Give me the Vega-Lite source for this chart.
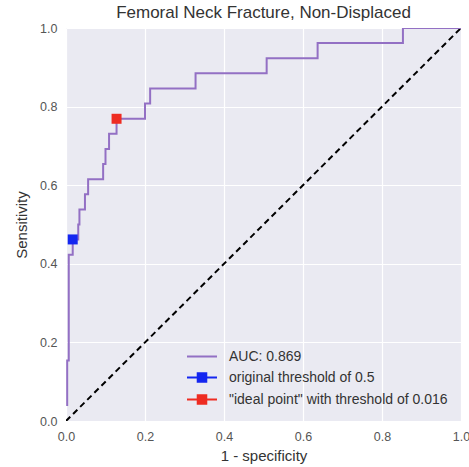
{
  "$schema": "https://vega.github.io/schema/vega-lite/v6.json",
  "width": 395,
  "height": 393,
  "autosize": {"type": "none"},
  "padding": {"left": 66, "top": 28, "right": 8, "bottom": 46},
  "background": "white",
  "title": {"text": "Femoral Neck Fracture, Non-Displaced", "fontSize": 17, "font": "Liberation Sans", "fontWeight": "normal", "color": "#333333", "offset": 0},
  "config": {
    "view": {"fill": "#EAEAF2", "stroke": null},
    "axis": {"grid": true, "gridColor": "white", "gridWidth": 1.2, "domain": false, "ticks": false, "labelFlush": false, "labelFont": "Liberation Sans", "labelFontSize": 12.5, "labelColor": "#555555", "titleFont": "Liberation Sans", "titleFontSize": 15, "titleFontWeight": "normal", "titleColor": "#333333", "labelPadding": 9},
    "legend": {"title": null, "orient": "bottom-right", "offset": 13, "padding": 0, "labelFont": "Liberation Sans", "labelFontSize": 14, "labelColor": "#333333", "labelLimit": 400, "rowPadding": 5, "symbolSize": 225, "symbolStrokeWidth": 2, "labelOffset": 26}
  },
  "datasets": {
    "roc": [
      {"i": 0, "fpr": 0.003, "tpr": 0.038},
      {"i": 1, "fpr": 0.003, "tpr": 0.154},
      {"i": 2, "fpr": 0.007, "tpr": 0.154},
      {"i": 3, "fpr": 0.007, "tpr": 0.423},
      {"i": 4, "fpr": 0.017, "tpr": 0.423},
      {"i": 5, "fpr": 0.017, "tpr": 0.462},
      {"i": 6, "fpr": 0.031, "tpr": 0.462},
      {"i": 7, "fpr": 0.031, "tpr": 0.5},
      {"i": 8, "fpr": 0.034, "tpr": 0.5},
      {"i": 9, "fpr": 0.034, "tpr": 0.538},
      {"i": 10, "fpr": 0.048, "tpr": 0.538},
      {"i": 11, "fpr": 0.048, "tpr": 0.577},
      {"i": 12, "fpr": 0.056, "tpr": 0.577},
      {"i": 13, "fpr": 0.056, "tpr": 0.615},
      {"i": 14, "fpr": 0.094, "tpr": 0.615},
      {"i": 15, "fpr": 0.094, "tpr": 0.654},
      {"i": 16, "fpr": 0.1, "tpr": 0.654},
      {"i": 17, "fpr": 0.1, "tpr": 0.692},
      {"i": 18, "fpr": 0.109, "tpr": 0.692},
      {"i": 19, "fpr": 0.109, "tpr": 0.731},
      {"i": 20, "fpr": 0.128, "tpr": 0.731},
      {"i": 21, "fpr": 0.128, "tpr": 0.769},
      {"i": 22, "fpr": 0.2, "tpr": 0.769},
      {"i": 23, "fpr": 0.2, "tpr": 0.808},
      {"i": 24, "fpr": 0.213, "tpr": 0.808},
      {"i": 25, "fpr": 0.213, "tpr": 0.846},
      {"i": 26, "fpr": 0.328, "tpr": 0.846},
      {"i": 27, "fpr": 0.328, "tpr": 0.885},
      {"i": 28, "fpr": 0.508, "tpr": 0.885},
      {"i": 29, "fpr": 0.508, "tpr": 0.923},
      {"i": 30, "fpr": 0.637, "tpr": 0.923},
      {"i": 31, "fpr": 0.637, "tpr": 0.962},
      {"i": 32, "fpr": 0.853, "tpr": 0.962},
      {"i": 33, "fpr": 0.853, "tpr": 1.0},
      {"i": 34, "fpr": 1.0, "tpr": 1.0}
    ],
    "diag": [
      {"i": 0, "fpr": 0, "tpr": 0},
      {"i": 1, "fpr": 1, "tpr": 1}
    ],
    "pts": [
      {"series": "original threshold of 0.5", "fpr": 0.017, "tpr": 0.462},
      {"series": "\"ideal point\" with threshold of 0.016", "fpr": 0.128, "tpr": 0.769}
    ]
  },
  "layer": [
    {
      "data": {"name": "diag"},
      "mark": {"type": "line", "color": "black", "strokeWidth": 2, "strokeDash": [6, 4], "clip": true},
      "encoding": {
        "x": {"field": "fpr", "type": "quantitative", "scale": {"domain": [0, 1], "nice": false}, "axis": {"title": "1 - specificity", "values": [0, 0.2, 0.4, 0.6, 0.8, 1.0], "format": ".1f", "titlePadding": 6}},
        "y": {"field": "tpr", "type": "quantitative", "scale": {"domain": [0, 1], "nice": false}, "axis": {"title": "Sensitivity", "values": [0, 0.2, 0.4, 0.6, 0.8, 1.0], "format": ".1f", "titlePadding": 10}},
        "order": {"field": "i"}
      }
    },
    {
      "data": {"name": "roc"},
      "transform": [{"calculate": "'AUC: 0.869'", "as": "series"}],
      "mark": {"type": "line", "strokeWidth": 2, "interpolate": "linear", "clip": true},
      "encoding": {
        "x": {"field": "fpr", "type": "quantitative"},
        "y": {"field": "tpr", "type": "quantitative"},
        "order": {"field": "i"},
        "color": {"field": "series", "type": "nominal",
          "scale": {"domain": ["AUC: 0.869", "original threshold of 0.5", "\"ideal point\" with threshold of 0.016"], "range": ["#9370C4", "#1426F0", "#EE2C22"]},
          "legend": {"symbolType": "M-1,0H3M0.43,-0.57H1.57V0.57H0.43Z",
            "encode": {"symbols": {"update": {
              "shape": {"signal": "datum.value === 'AUC: 0.869' ? 'M-1,0H3' : 'M-1,0H3M0.43,-0.57H1.57V0.57H0.43Z'"},
              "fill": {"signal": "datum.value === 'AUC: 0.869' ? 'transparent' : scale('color', datum.value)"},
              "stroke": {"scale": "color", "field": "value"}, "strokeWidth": {"value": 2}, "opacity": {"value": 1}}}}}}
      }
    },
    {
      "data": {"name": "pts"},
      "mark": {"type": "square", "filled": true, "opacity": 1, "size": 100},
      "encoding": {
        "x": {"field": "fpr", "type": "quantitative"},
        "y": {"field": "tpr", "type": "quantitative"},
        "color": {"field": "series", "type": "nominal"}
      }
    }
  ]
}
